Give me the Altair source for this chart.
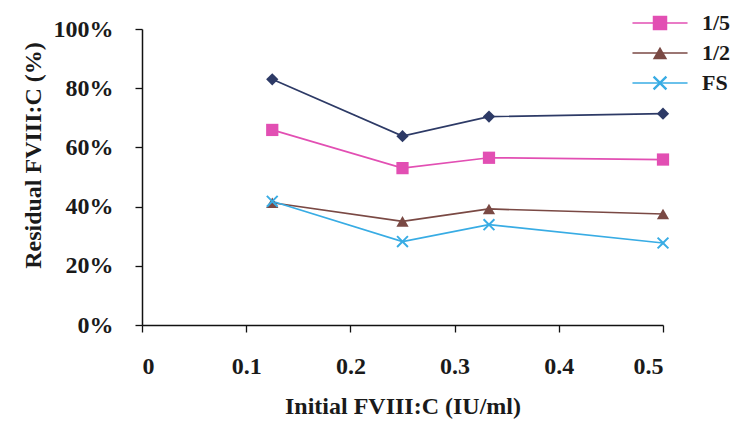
import math
import altair as alt
import pandas as pd

# Initial FVIII:C (IU/ml) at which each dilution series was measured
dose = [0.125, 0.25, 0.333, 0.5]

# Residual FVIII:C (%) per series
res_1_10 = [83.0, 63.8, 70.4, 71.4]
res_1_5 = [65.9, 53.0, 56.5, 55.9]
res_1_2 = [41.3, 35.0, 39.2, 37.5]
res_fs = [41.8, 28.2, 33.9, 27.7]

series_names = ["1/10", "1/5", "1/2", "FS"]
series_values = [res_1_10, res_1_5, res_1_2, res_fs]
legend_entries = ["1/5", "1/2", "FS"]

colors = {"1/10": "#2d3a66", "1/5": "#e24fb3", "1/2": "#7a4944", "FS": "#38ace4"}


def x_marker(t=0.16, arm=1.25):
    """A filled diagonal cross, built as a rotated plus outline."""
    plus = [(-t, -arm), (t, -arm), (t, -t), (arm, -t), (arm, t), (t, t),
            (t, arm), (-t, arm), (-t, t), (-arm, t), (-arm, -t), (-t, -t)]
    c = math.sqrt(0.5)
    pts = [((x - y) * c, (x + y) * c) for x, y in plus]
    return "M" + "L".join(f"{x:.3f},{y:.3f}" for x, y in pts) + "Z"


shapes = {"1/10": "diamond", "1/5": "square", "1/2": "triangle-up", "FS": x_marker()}

rows = []
for name, vals in zip(series_names, series_values):
    for d, v in zip(dose, vals):
        rows.append({"dose": d, "residual": v / 100.0, "series": name, "marker": name})
df = pd.DataFrame(rows)

serif = "Liberation Serif"

x_enc = alt.X(
    "dose:Q",
    scale=alt.Scale(domain=[0, 0.5], nice=False),
    axis=alt.Axis(
        values=[0, 0.1, 0.2, 0.3, 0.4, 0.5],
        format="~g",
        title="Initial FVIII:C (IU/ml)",
        grid=False,
        labelPadding=22,
        titlePadding=16,
    ),
)
y_enc = alt.Y(
    "residual:Q",
    scale=alt.Scale(domain=[0, 1], nice=False),
    axis=alt.Axis(
        values=[0, 0.2, 0.4, 0.6, 0.8, 1.0],
        format=".0%",
        title="Residual FVIII:C (%)",
        grid=False,
        labelPadding=22,
        titleX=-109,
        titleY=126,
        titleBaseline="middle",
    ),
)

# both legends share one layout so the line swatches sit under the markers
legend_layout = dict(
    values=legend_entries,
    title=None,
    symbolSize=210,
    labelFont=serif,
    labelFontWeight="bold",
    labelFontSize=22,
    labelColor="#1a1a1a",
    labelOffset=31,
    orient="none",
    legendX=507,
    legendY=-17,
    padding=0,
    rowPadding=8,
)

# a long horizontal swatch: the path unit is scaled by sqrt(symbolSize) / 2
line_swatch = "M-3.8,0H3.8"

# stroke scale keeps its data-derived (sorted) domain so its legend stays separate
sorted_names = sorted(series_names)
lines = alt.Chart(df).mark_line(strokeWidth=1.7).encode(
    x=x_enc,
    y=y_enc,
    stroke=alt.Stroke(
        "series:N",
        scale=alt.Scale(range=[colors[n] for n in sorted_names]),
        legend=alt.Legend(
            symbolType=line_swatch,
            symbolStrokeWidth=1.6,
            symbolFillColor="transparent",
            labelOpacity=0,
            **legend_layout,
        ),
    ),
)

points = alt.Chart(df).mark_point(filled=True, size=150, opacity=1).encode(
    x=x_enc,
    y=y_enc,
    color=alt.Color(
        "marker:N",
        scale=alt.Scale(domain=series_names, range=[colors[n] for n in series_names]),
        legend=alt.Legend(symbolOpacity=1, **legend_layout),
    ),
    shape=alt.Shape(
        "marker:N",
        scale=alt.Scale(domain=series_names, range=[shapes[n] for n in series_names]),
        legend=alt.Legend(symbolOpacity=1, **legend_layout),
    ),
)

chart = (
    alt.layer(lines, points)
    .properties(
        width=521,
        height=296,
        autosize=alt.AutoSizeParams(type="none"),
        padding={"left": 142, "top": 29, "right": 89, "bottom": 96},
        background="white",
    )
    .configure_view(stroke=None)
    .configure_axis(
        domainColor="#111",
        domainWidth=1.5,
        tickColor="#111",
        tickWidth=1.3,
        tickSize=7,
        labelFont=serif,
        labelFontWeight="bold",
        labelFontSize=24,
        labelColor="#1a1a1a",
        titleFont=serif,
        titleFontWeight="bold",
        titleFontSize=24,
        titleColor="#1a1a1a",
    )
)

chart.save("out.html", embed_options={"renderer": "svg", "actions": False})
